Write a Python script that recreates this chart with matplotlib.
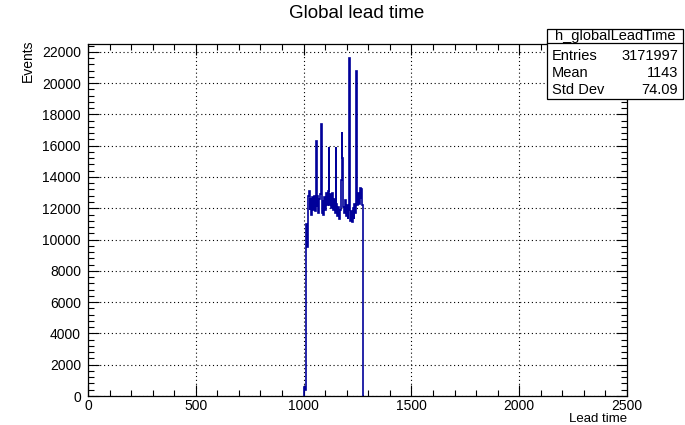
import numpy as np
import matplotlib
matplotlib.use("Agg")
import matplotlib.pyplot as plt
from matplotlib.patches import Rectangle
from matplotlib.lines import Line2D
from matplotlib.ticker import MultipleLocator

plt.rcParams['font.family'] = ['Liberation Sans', 'DejaVu Sans']

# histogram contents, 4-unit bins starting at 1000
bin_start = 1000
bin_width = 4
counts = [
    0, 600, 400, 11000, 9500, 12800, 13100, 11900, 12600, 11600,
    12700, 11900, 12800, 11800, 16300, 12100, 12800, 11700, 12600, 12900,
    17400, 11700, 12500, 11600, 12700, 11900, 13000, 12200, 13100, 15900,
    12200, 12900, 12000, 13000, 11900, 12600, 11700, 15900, 12300, 11500,
    12100, 11300, 11900, 13800, 16900, 15200, 12100, 11700, 12500, 11500,
    12200, 11300, 11900, 21600, 11200, 11800, 11100, 12000, 11300, 12300,
    11700, 20800, 12200, 13000, 12300, 13300, 12600, 13200, 12200, 0,
]
stat_names = ['Entries', 'Mean', 'Std Dev']
stat_values = ['3171997', '1143', '74.09']
hist_name = 'h_globalLeadTime'

edges = bin_start + bin_width * np.arange(len(counts) + 1)

W, H = 685, 425
fig = plt.figure(figsize=(W / 100, H / 100), dpi=100)
ax = fig.add_axes([88 / W, 1 - 396 / H, (627 - 88) / W, (396 - 44) / H])

ax.stairs(counts, edges, color='#000099', linewidth=1.2, zorder=3)

ax.set_xlim(0, 2500)
ax.set_ylim(0, 22500)
ax.xaxis.set_major_locator(MultipleLocator(500))
ax.xaxis.set_minor_locator(MultipleLocator(100))
ax.yaxis.set_major_locator(MultipleLocator(2000))
ax.yaxis.set_minor_locator(MultipleLocator(400))
ax.tick_params(which='both', direction='in', top=True, right=True,
               labelsize=10, color='black', width=0.8)
ax.tick_params(axis='y', which='major', length=8, pad=5)
ax.tick_params(axis='x', which='major', length=8, pad=2)
ax.tick_params(which='minor', length=4)
ax.grid(True, which='major', color='black', linestyle=(0, (1, 2.5)), linewidth=0.8)
for s in ax.spines.values():
    s.set_linewidth(0.9)

fig.text(357 / W, 1 - 14 / H, 'Global lead time', ha='center', va='center', fontsize=13.5)
fig.text(627 / W, 1 - 419 / H, 'Lead time', ha='right', va='center', fontsize=9.5)
fig.text(28 / W, 1 - 40 / H, 'Events', ha='center', va='top', rotation=90, fontsize=10)

# stats box
bx0, bx1, by0, by1, bsep = 547, 683, 29, 99, 43
fig.add_artist(Rectangle((bx0 / W, 1 - by1 / H), (bx1 - bx0) / W, (by1 - by0) / H,
                         transform=fig.transFigure, facecolor='white',
                         edgecolor='black', linewidth=0.9, zorder=5))
fig.add_artist(Line2D([bx0 / W, bx1 / W], [1 - bsep / H, 1 - bsep / H],
                      transform=fig.transFigure, color='black', linewidth=0.9, zorder=6))
fig.text((bx0 + bx1) / 2 / W, 1 - 36 / H, hist_name, ha='center', va='center',
         fontsize=10.5, zorder=7)
for k, (n, v) in enumerate(zip(stat_names, stat_values)):
    y = 1 - (56 + 17 * k) / H
    fig.text((bx0 + 5) / W, y, n, ha='left', va='center', fontsize=10.5, zorder=7)
    fig.text((bx1 - 5) / W, y, v, ha='right', va='center', fontsize=10.5, zorder=7)

fig.savefig('out.png', dpi=100)
